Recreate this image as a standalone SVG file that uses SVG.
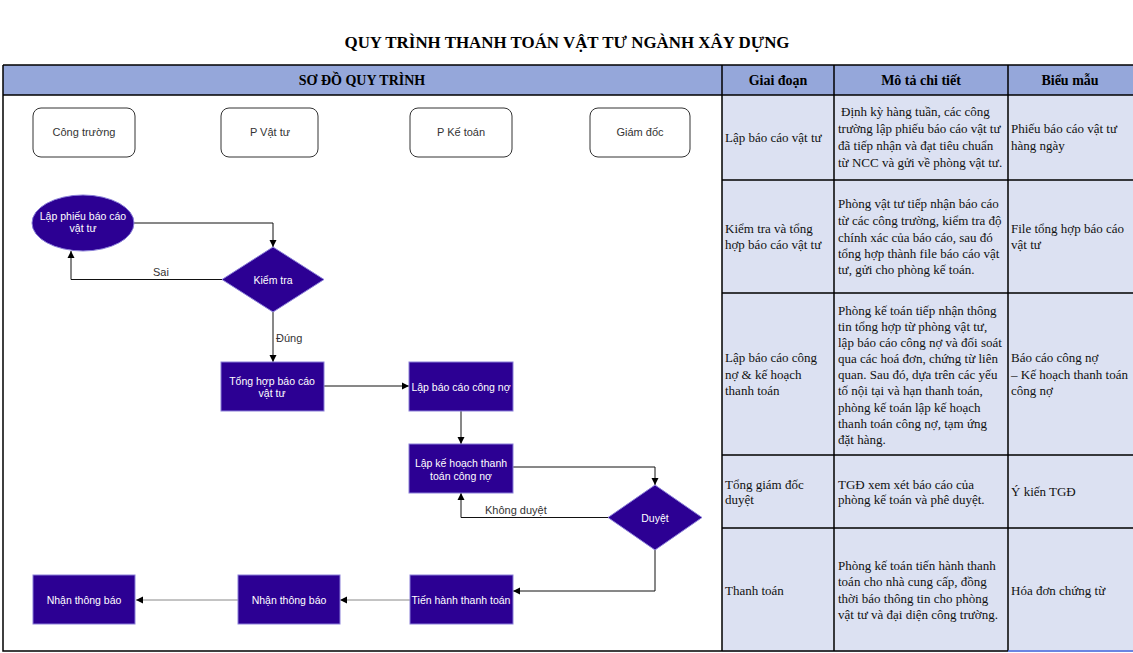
<svg xmlns="http://www.w3.org/2000/svg" width="1133" height="653" viewBox="0 0 1133 653">
<defs>
<marker id="ah" markerWidth="8" markerHeight="8" refX="7" refY="4" orient="auto" markerUnits="userSpaceOnUse">
<path d="M0,0.5 L7,4 L0,7.5 Z" fill="#000"/>
</marker>
<style>
.title{font-family:"Liberation Serif",serif;font-weight:bold;font-size:16px;fill:#000}
.hd{font-family:"Liberation Serif",serif;font-weight:bold;font-size:14px;fill:#000}
.cell{font-family:"Liberation Serif",serif;font-size:13px;fill:#111}
.lane rect{fill:#fff;stroke:#333;stroke-width:1}
.lane text{font-family:"Liberation Sans",Arial,sans-serif;font-size:11px;fill:#333;text-anchor:middle}
.node .shape{fill:#2c0093;stroke:#8a7fd8;stroke-width:1}
.node text{font-family:"Liberation Sans",Arial,sans-serif;font-size:10.5px;fill:#fff;text-anchor:middle}
.conn path{fill:none;stroke:#111;stroke-width:1;marker-end:url(#ah)}
.conn path.gray{stroke:#888}
.lbl{font-family:"Liberation Sans",Arial,sans-serif;font-size:11px;fill:#333}
.grid{stroke:#000;stroke-width:1.5;fill:none}
</style>
</defs>
<rect x="0" y="0" width="1133" height="653" fill="#fff"/>
<text class="title" x="567" y="48" text-anchor="middle" textLength="445" lengthAdjust="spacingAndGlyphs">QUY TRÌNH THANH TOÁN VẬT TƯ NGÀNH XÂY DỰNG</text>

<g id="table">
<rect x="3" y="65" width="1132" height="30" fill="#95a7da"/>
<rect x="722" y="95" width="413" height="557" fill="#dce1f2"/>
<path class="grid" d="M3,65 H1135 M3,95 H1135 M3,65 V651 H1008 M722,65 V651 M834,65 V651 M1008,65 V651 M722,180 H1135 M722,293 H1135 M722,455 H1135 M722,528 H1135"/>
<path d="M1008,651 H1133" stroke="#4466dd" stroke-width="1.5"/>
<text class="hd" x="362" y="85" text-anchor="middle">SƠ ĐỒ QUY TRÌNH</text>
<text class="hd" x="778" y="85" text-anchor="middle">Giai đoạn</text>
<text class="hd" x="921" y="85" text-anchor="middle">Mô tả chi tiết</text>
<text class="hd" x="1070" y="85" text-anchor="middle">Biểu mẫu</text>

<text class="cell" x="725" y="142">Lập báo cáo vật tư</text>
<text class="cell" x="841" y="116">Định kỳ hàng tuần, các công</text>
<text class="cell" x="838" y="133">trường lập phiếu báo cáo vật tư</text>
<text class="cell" x="838" y="150">đã tiếp nhận và đạt tiêu chuẩn</text>
<text class="cell" x="838" y="167">từ NCC và gửi về phòng vật tư.</text>
<text class="cell" x="1011" y="133">Phiếu báo cáo vật tư</text>
<text class="cell" x="1011" y="150">hàng ngày</text>

<text class="cell" x="725" y="233">Kiểm tra và tổng</text>
<text class="cell" x="725" y="249">hợp báo cáo vật tư</text>
<text class="cell" x="838" y="208">Phòng vật tư tiếp nhận báo cáo</text>
<text class="cell" x="838" y="225">từ các công trường, kiểm tra độ</text>
<text class="cell" x="838" y="242">chính xác của báo cáo, sau đó</text>
<text class="cell" x="838" y="258">tổng hợp thành file báo cáo vật</text>
<text class="cell" x="838" y="274">tư, gửi cho phòng kế toán.</text>
<text class="cell" x="1011" y="233">File tổng hợp báo cáo</text>
<text class="cell" x="1011" y="249">vật tư</text>

<text class="cell" x="725" y="362">Lập báo cáo công</text>
<text class="cell" x="725" y="379">nợ &amp; kế hoạch</text>
<text class="cell" x="725" y="395">thanh toán</text>
<text class="cell" x="838" y="315">Phòng kế toán tiếp nhận thông</text>
<text class="cell" x="838" y="331">tin tổng hợp từ phòng vật tư,</text>
<text class="cell" x="838" y="347">lập báo cáo công nợ và đối soát</text>
<text class="cell" x="838" y="363">qua các hoá đơn, chứng từ liên</text>
<text class="cell" x="838" y="379">quan. Sau đó, dựa trên các yếu</text>
<text class="cell" x="838" y="395">tố nội tại và hạn thanh toán,</text>
<text class="cell" x="838" y="412">phòng kế toán lập kế hoạch</text>
<text class="cell" x="838" y="428">thanh toán công nợ, tạm ứng</text>
<text class="cell" x="838" y="444">đặt hàng.</text>
<text class="cell" x="1011" y="362">Báo cáo công nợ</text>
<text class="cell" x="1011" y="379">– Kế hoạch thanh toán</text>
<text class="cell" x="1011" y="395">công nợ</text>

<text class="cell" x="725" y="489">Tổng giám đốc</text>
<text class="cell" x="725" y="504">duyệt</text>
<text class="cell" x="838" y="489">TGĐ xem xét báo cáo của</text>
<text class="cell" x="838" y="504">phòng kế toán và phê duyệt.</text>
<text class="cell" x="1011" y="496">Ý kiến TGĐ</text>

<text class="cell" x="725" y="595">Thanh toán</text>
<text class="cell" x="838" y="570">Phòng kế toán tiến hành thanh</text>
<text class="cell" x="838" y="586">toán cho nhà cung cấp, đồng</text>
<text class="cell" x="838" y="603">thời báo thông tin cho phòng</text>
<text class="cell" x="838" y="619">vật tư và đại diện công trường.</text>
<text class="cell" x="1011" y="595">Hóa đơn chứng từ</text>
</g>

<g id="lane-congtruong" class="lane"><rect x="33" y="108" width="102" height="49" rx="8"/><text x="84" y="136">Công trường</text></g>
<g id="lane-pvattu" class="lane"><rect x="221" y="108" width="97" height="49" rx="8"/><text x="270" y="136">P Vật tư</text></g>
<g id="lane-pketoan" class="lane"><rect x="410" y="108" width="102" height="49" rx="8"/><text x="461" y="136">P Kế toán</text></g>
<g id="lane-giamdoc" class="lane"><rect x="590" y="108" width="100" height="49" rx="8"/><text x="640" y="136">Giám đốc</text></g>

<g id="conns" class="conn">
<path d="M134,223 H273 V247"/>
<path d="M222,279.5 H71 V251"/>
<path d="M273,312 V362"/>
<path d="M324,386 H409"/>
<path d="M461,411 V444"/>
<path d="M513,467 H655 V485"/>
<path d="M608,517.5 H461 V493"/>
<path d="M655,550 V591 H513"/>
<path class="gray" d="M410,600 H340"/>
<path class="gray" d="M238,600 H136"/>
</g>
<g id="labels">
<text class="lbl" x="153" y="276">Sai</text>
<text class="lbl" x="276" y="342">Đúng</text>
<text class="lbl" x="485" y="514">Không duyệt</text>
</g>

<g id="n-lapphieu" class="node"><ellipse class="shape" cx="83" cy="223" rx="51" ry="28"/><text x="83" y="220">Lập phiếu báo cáo</text><text x="83" y="232">vật tư</text></g>
<g id="n-kiemtra" class="node"><polygon class="shape" points="273,247 324,279.5 273,312 222,279.5"/><text x="273" y="284">Kiểm tra</text></g>
<g id="n-tonghop" class="node"><rect class="shape" x="221" y="362" width="103" height="49"/><text x="272" y="385">Tổng hợp báo cáo</text><text x="272" y="397">vật tư</text></g>
<g id="n-lapbaocao" class="node"><rect class="shape" x="409" y="362" width="104" height="49"/><text x="461" y="391">Lập báo cáo công nợ</text></g>
<g id="n-lapkehoach" class="node"><rect class="shape" x="409" y="444" width="104" height="49"/><text x="461" y="467">Lập kế hoạch thanh</text><text x="461" y="480">toán công nợ</text></g>
<g id="n-duyet" class="node"><polygon class="shape" points="655,485 702,517.5 655,550 608,517.5"/><text x="655" y="522">Duyệt</text></g>
<g id="n-tienhanh" class="node"><rect class="shape" x="410" y="575" width="103" height="49"/><text x="461" y="604">Tiến hành thanh toán</text></g>
<g id="n-nhan2" class="node"><rect class="shape" x="238" y="575" width="102" height="49"/><text x="289" y="604">Nhận thông báo</text></g>
<g id="n-nhan1" class="node"><rect class="shape" x="33" y="575" width="102" height="49"/><text x="84" y="604">Nhận thông báo</text></g>
</svg>
